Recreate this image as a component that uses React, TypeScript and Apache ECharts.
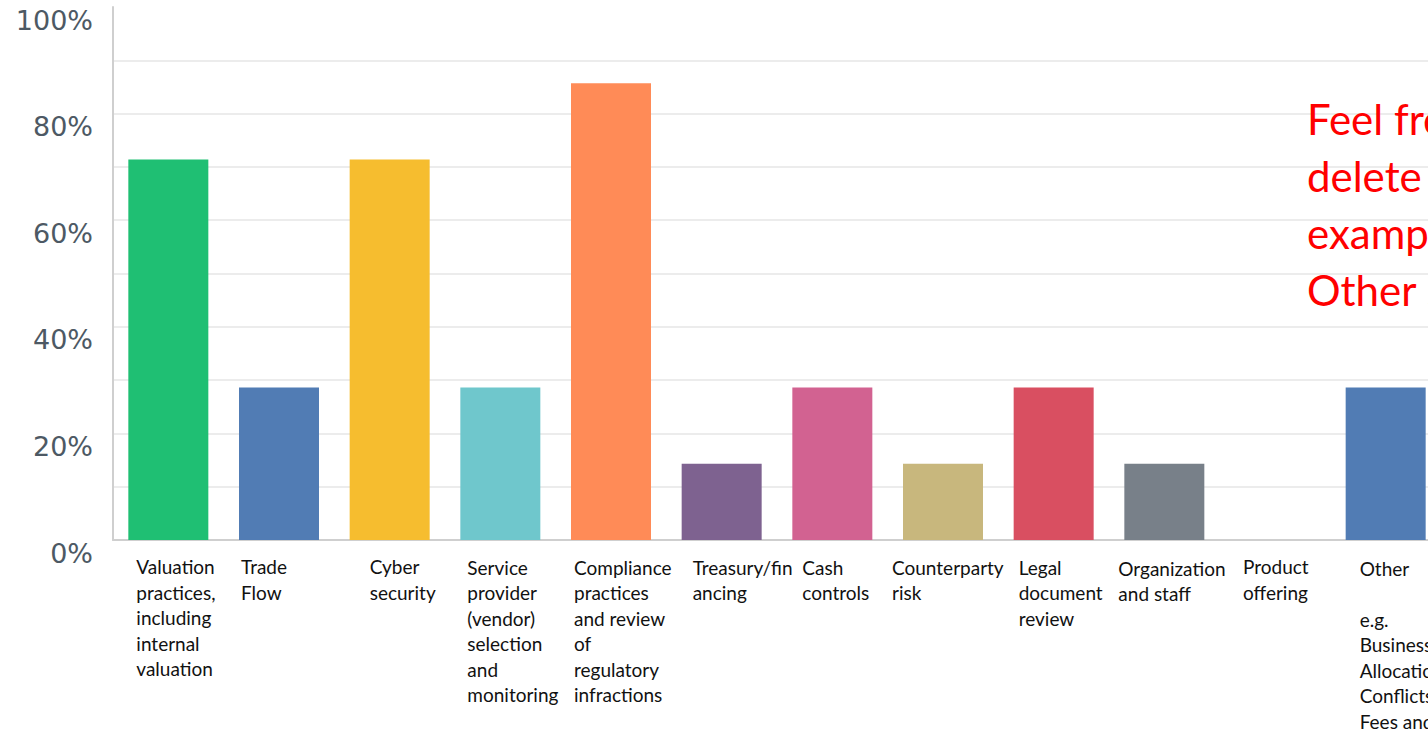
import React, { useEffect, useRef } from "react";
import * as echarts from "echarts";

const categories: string[] = [
  "Valuation\npractices,\nincluding\ninternal\nvaluation",
  "Trade\nFlow",
  "Cyber\nsecurity",
  "Service\nprovider\n(vendor)\nselection\nand\nmonitoring",
  "Compliance\npractices\nand review\nof\nregulatory\ninfractions",
  "Treasury/fin\nancing",
  "Cash\ncontrols",
  "Counterparty\nrisk",
  "Legal\ndocument\nreview",
  "Organization\nand staff",
  "Product\noffering",
  "Other\n \ne.g.\nBusiness\nAllocation\nConflicts\nFees and\nExpenses",
];

const values: number[] = [71.4, 28.6, 71.4, 28.6, 85.7, 14.3, 28.6, 14.3, 28.6, 14.3, 0, 28.6];

const barColors: string[] = [
  "#1FBF73", "#517CB4", "#F6BD2F", "#6FC7CC", "#FF8B57", "#7E6290",
  "#D26291", "#C8B77D", "#D94F61", "#788089", "#517CB4", "#517CB4",
];

const labelOffsets: number[] = [23, 17, 35, 22, 18, 26, 25, 4, 20, 9, 23, 29];
const labelTopPad: number[] = [0, 0, 0, 1, 1, 1, 1, 1, 1, 3, 0, 3];

const yTicks: number[] = [0, 20, 40, 60, 80, 100];

const noteText = "Feel free to\ndelete the\nexamples in\nOther ...";

export default function App() {
  const ref = useRef<HTMLDivElement>(null);
  useEffect(() => {
    if (!ref.current) return;
    const chart = echarts.init(ref.current, null, { renderer: "svg" });
    const rich: Record<string, any> = {};
    categories.forEach((_, i) => {
      rich["c" + i] = {
        fontFamily: "Lato",
        fontSize: 19,
        lineHeight: 25.5,
        color: "#111111",
        align: "left",
        padding: [labelTopPad[i], 0, 0, labelOffsets[i]],
      };
    });
    chart.setOption({
      animation: false,
      grid: { left: 113, right: 39, top: 7, bottom: 194, containLabel: false, outerBoundsMode: "none" },
      xAxis: {
        type: "category",
        data: categories,
        axisLine: { show: true, lineStyle: { color: "#cfcfcf", width: 2 } },
        axisTick: { show: false },
        axisLabel: {
          interval: 0,
          margin: 14,
          width: 110,
          overflow: "none",
          align: "center",
          verticalAlign: "top",
          formatter: (v: string) => {
            const i = categories.indexOf(v);
            return "{c" + i + "|" + v + "}";
          },
          rich,
        },
      },
      yAxis: {
        type: "value",
        min: 0,
        max: 100,
        interval: 10,
        axisLine: { show: true, lineStyle: { color: "#cfcfcf", width: 2 } },
        axisTick: { show: false },
        splitLine: { show: true, showMaxLine: false, lineStyle: { color: "#ececec", width: 2 } },
        axisLabel: {
          margin: 20,
          fontFamily: "DejaVu Sans",
          fontSize: 27,
          color: "#4d5964",
          verticalAlign: "top",
          lineHeight: 26,
          formatter: (v: number) => (yTicks.indexOf(v) >= 0 ? v + "%" : ""),
        },
      },
      series: [
        {
          type: "bar",
          barWidth: 80,
          data: values.map((v, i) => ({ value: v, itemStyle: { color: barColors[i] } })),
        },
      ],
      graphic: [
        {
          type: "text",
          left: 1307,
          top: 90,
          z: 100,
          style: {
            text: noteText,
            fill: "#FF0000",
            fontFamily: "Lato",
            fontSize: 42,
            lineHeight: 57,
          },
        },
      ],
    });
    return () => chart.dispose();
  }, []);
  return (
    <div style={{ position: "fixed", left: 0, top: 0, width: 1428, height: 734, overflow: "hidden", background: "#fff" }}>
      <div ref={ref} style={{ width: 1480, height: 734 }} />
    </div>
  );
}
